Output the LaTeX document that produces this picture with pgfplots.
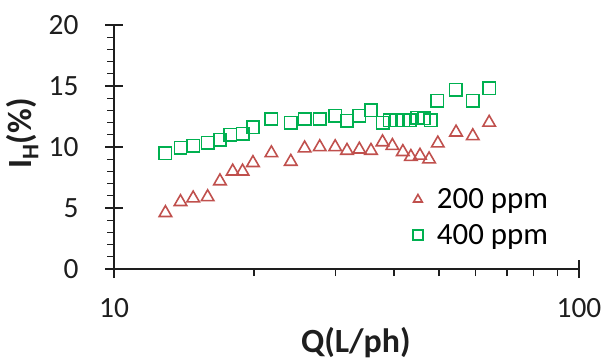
\documentclass[border=0pt]{standalone}
\usepackage{pgfplots}
\pgfplotsset{compat=1.18}
\usepackage{fontspec}
\setmainfont{Carlito}
\definecolor{tri}{RGB}{192,80,77}
\definecolor{sq}{RGB}{0,176,80}
\definecolor{axc}{RGB}{30,30,30}
\begin{document}
\begin{tikzpicture}
\path[use as bounding box] (-114bp,-91bp) rectangle (489bp,269bp);
\begin{axis}[
  scale only axis,
  width=465bp, height=244bp,
  xmode=log,
  xmin=10, xmax=100,
  ymin=0, ymax=20,
  xtick={10,100}, xticklabels={10,100},
  ytick={0,5,10,15,20}, yticklabels={0,5,10,15,20},
  minor y tick num=4,
  axis lines*=left,
  axis line style={axc, line width=1.2pt},
  every tick/.style={axc, line width=1.1pt},
  tick align=outside,
  major tick length=9bp,
  minor tick length=7bp,
  extra y ticks={0,5,10,15,20},
  extra y tick labels={},
  extra y tick style={tick align=inside, major tick length=9bp},
  extra x ticks={10,100},
  extra x tick labels={},
  extra x tick style={tick align=inside, major tick length=9bp},
  /pgf/number format/assume math mode=true,
  tick label style={font=\fontsize{29.5}{34}\selectfont, text=axc},
  yticklabel style={xshift=-23bp},
  xticklabel style={yshift=-17bp},
  xlabel={\textbf{Q(L/ph)}},
  ylabel={\textbf{I\textsubscript{H}(\%)}},
  label style={font=\fontsize{34}{38}\selectfont, text=axc},
  xlabel style={at={(axis description cs:0.52,-0.30)}, anchor=center},
  ylabel style={at={(axis description cs:-0.197,0.555)}, anchor=center},
  legend style={at={(axis description cs:0.636,0.338)}, anchor=north west, draw=none, fill=none,
    font=\fontsize{31}{36}\selectfont, row sep=10bp, inner sep=0pt},
  legend cell align=left,
  legend image code/.code={\path[draw=none, fill=none] (0bp,0bp) rectangle (25bp,0.1bp); \draw[#1, mark size=5bp, line width=1.3pt] plot coordinates {(8bp,0bp)};},
  clip=false,
]
\addplot[only marks, mark=triangle, mark size=7.2bp, mark options={draw=tri, line width=1.6pt}] coordinates {
(12.9,4.6) (13.9,5.5) (14.8,5.8) (15.9,5.9) (16.9,7.2) (18.0,8.0) (18.9,8.0) (19.9,8.7)
(21.8,9.5) (24.0,8.8) (25.7,9.9) (27.7,10.0) (29.9,10.0) (31.7,9.7) (33.7,9.8) (35.7,9.7)
(37.8,10.4) (39.7,10.1) (41.8,9.6) (43.5,9.2) (45.5,9.3) (47.6,9.0) (49.7,10.3) (54.4,11.2)
(59.1,10.9) (64.1,12.0)
};
\addlegendentry{200 ppm}
\addplot[only marks, mark=square, mark size=6.2bp, mark options={draw=sq, line width=1.6pt}] coordinates {
(12.9,9.5) (13.9,9.95) (14.8,10.1) (15.9,10.35) (16.9,10.6) (17.8,11.0) (18.9,11.1) (19.9,11.6)
(21.8,12.3) (24.0,12.0) (25.7,12.3) (27.7,12.3) (29.9,12.55) (31.7,12.15) (33.7,12.55) (35.7,13.0)
(37.8,12.0) (39.2,12.2) (40.5,12.2) (41.9,12.2) (43.3,12.2) (44.9,12.4) (46.4,12.35) (48.0,12.2)
(49.6,13.8) (54.3,14.7) (59.1,13.8) (64.1,14.8)
};
\addlegendentry{400 ppm}
\end{axis}
\end{tikzpicture}
\end{document}
